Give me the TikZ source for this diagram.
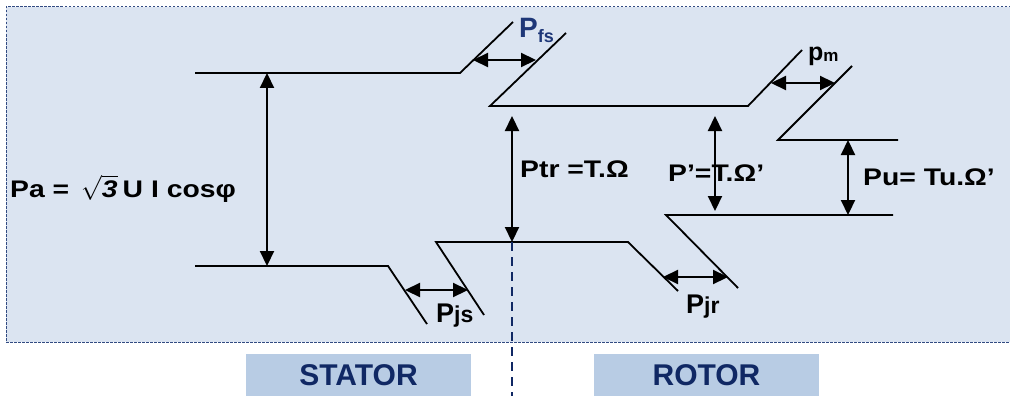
\documentclass[tikz,border=0pt]{standalone}
\usepackage{fontspec}
\setmainfont{Liberation Sans}
\newfontfamily\lbl[FakeStretch=1.18]{Liberation Sans}
\usetikzlibrary{arrows.meta}
\definecolor{bgblue}{RGB}{219,228,241}
\definecolor{boxblue}{RGB}{184,204,228}
\definecolor{navy}{RGB}{16,40,100}
\definecolor{pfsblue}{RGB}{30,55,120}
\definecolor{bordc}{RGB}{50,75,130}
\begin{document}
\begin{tikzpicture}[x=1pt,y=-1pt,
  edge/.style={line width=1.8pt, black, line join=miter},
  dim/.style={line width=2.2pt, {Triangle[length=15pt,width=14pt]}-{Triangle[length=15pt,width=14pt]}},
  lab/.style={font=\lbl\bfseries\fontsize{24}{24}\selectfont, inner sep=0pt},
  sublab/.style={font=\bfseries\fontsize{27}{27}\selectfont, inner sep=0pt},
  zone/.style={fill=boxblue, minimum width=225pt, minimum height=42pt, inner sep=0pt, font=\bfseries\fontsize{30}{30}\selectfont, text=navy}]
\useasboundingbox (0,0) rectangle (1010,396);
% background panel
\fill[bgblue] (6,7) rectangle (1015,342);
\draw[bordc, line width=1pt, dash pattern=on 2.5pt off 1.5pt] (1015,7) -- (6,7) -- (6,342) -- (1015,342);
% coordinates of the power levels
\coordinate (A1) at (195,73); \coordinate (A2) at (460,73); \coordinate (A3) at (513,22);
\coordinate (B3) at (566,33); \coordinate (B1) at (490,106); \coordinate (B2) at (748,106); \coordinate (B4) at (802,50);
\coordinate (C3) at (852,66); \coordinate (C1) at (778,140); \coordinate (C2) at (898,140);
\coordinate (D1) at (893,215); \coordinate (D2) at (666,215); \coordinate (D3) at (738,288);
\coordinate (E1) at (195,266); \coordinate (E2) at (388,266); \coordinate (E3) at (427,324);
\coordinate (F3) at (484,315); \coordinate (F1) at (436,242); \coordinate (F2) at (628,242); \coordinate (F4) at (678,291);
\draw[edge] (A1) -- (A2) -- (A3);
\draw[edge] (B3) -- (B1) -- (B2) -- (B4);
\draw[edge] (C3) -- (C1) -- (C2);
\draw[edge] (D1) -- (D2) -- (D3);
\draw[edge] (E1) -- (E2) -- (E3);
\draw[edge] (F3) -- (F1) -- (F2) -- (F4);
% arrow end points
\coordinate (pa1) at (267,73); \coordinate (pa2) at (267,266);
\coordinate (tr1) at (512,116); \coordinate (tr2) at (512,242);
\coordinate (pp1) at (715,116); \coordinate (pp2) at (715,211);
\coordinate (pu1) at (848,140); \coordinate (pu2) at (848,215);
\coordinate (fs1) at (473,60); \coordinate (fs2) at (536,60);
\coordinate (pm1) at (771,83); \coordinate (pm2) at (835,83);
\coordinate (js1) at (405,290); \coordinate (js2) at (468,290);
\coordinate (jr1) at (663,277); \coordinate (jr2) at (728,277);
\coordinate (dv) at (512,396);
\draw[dim] (pa1) -- (pa2);
\draw[dim] (tr1) -- (tr2);
\draw[dim] (pp1) -- (pp2);
\draw[dim] (pu1) -- (pu2);
\draw[dim] (fs1) -- (fs2);
\draw[dim] (pm1) -- (pm2);
\draw[dim] (js1) -- (js2);
\draw[dim] (jr1) -- (jr2);
% stator / rotor separation
\draw[navy, line width=2.2pt, dash pattern=on 9pt off 6pt] (tr2) -- (dv);
% labels
\node[lab, anchor=base west] (pa) at (10,197) {Pa =\hspace{12pt}$\sqrt{\hbox{\lbl\bfseries\itshape 3}}$\hspace{5pt}U I cos\char"03C6};
\node[lab, anchor=base west] (ptr) at (520,177) {Ptr =T.Ω};
\node[lab, anchor=base west] (pprime) at (668,181) {P’=T.Ω’};
\node[lab, anchor=base west] (pu) at (863,185) {Pu= Tu.Ω’};
\node[inner sep=0pt, anchor=base west, text=pfsblue, font=\bfseries\fontsize{28}{28}\selectfont] (pfs) at (519,38) {P\raisebox{-5pt}{\fontsize{18}{18}\selectfont fs}};
\node[inner sep=0pt, anchor=base west, font=\bfseries\fontsize{25}{25}\selectfont] (pmt) at (808,61) {p\raisebox{-1pt}{\fontsize{17}{17}\selectfont m}};
\node[sublab, anchor=base west] (pjs) at (436,322) {P{\fontsize{23}{23}\selectfont js}};
\node[sublab, anchor=base west] (pjr) at (686,313) {P{\fontsize{23}{23}\selectfont jr}};
% zone boxes
\node[zone] (stator) at (358.5,375) {STATOR};
\node[zone] (rotor) at (706.5,375) {ROTOR};
\end{tikzpicture}
\end{document}
